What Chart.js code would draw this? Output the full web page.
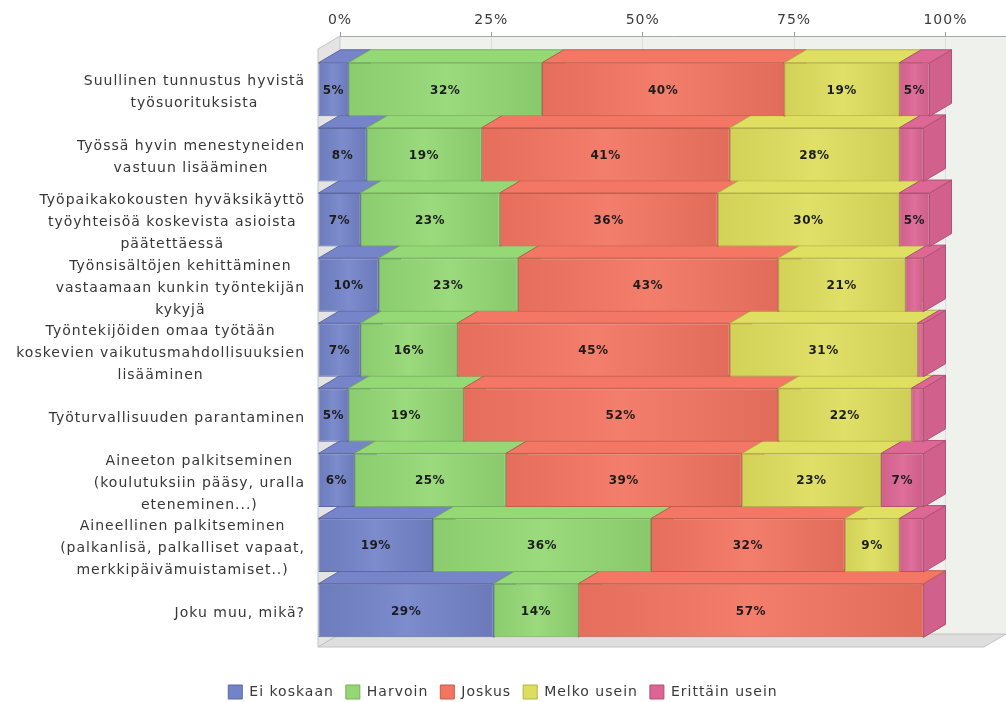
<!DOCTYPE html>
<html>
<head>
<meta charset="utf-8">
<title>Palkitsemiskeinojen käyttö</title>
<style>
  html, body { margin: 0; padding: 0; background: #ffffff; }
  #wrap { width: 1006px; height: 702px; }
</style>
<script src="https://cdn.jsdelivr.net/npm/chart.js@4.4.1/dist/chart.umd.min.js"></script>
</head>
<body>
<div id="wrap"><canvas id="chart" width="1006" height="702"></canvas></div>
<script>
// Question rows (each entry is the wrapped label, one string per line)
const categories = [
  ['Suullinen tunnustus hyvistä', 'työsuorituksista'],
  ['Työssä hyvin menestyneiden', 'vastuun lisääminen'],
  ['Työpaikakokousten hyväksikäyttö', 'työyhteisöä koskevista asioista', 'päätettäessä'],
  ['Työnsisältöjen kehittäminen', 'vastaamaan kunkin työntekijän', 'kykyjä'],
  ['Työntekijöiden omaa työtään', 'koskevien vaikutusmahdollisuuksien', 'lisääminen'],
  ['Työturvallisuuden parantaminen'],
  ['Aineeton palkitseminen', '(koulutuksiin pääsy, uralla', 'eteneminen...)'],
  ['Aineellinen palkitseminen', '(palkanlisä, palkalliset vapaat,', 'merkkipäivämuistamiset..)'],
  ['Joku muu, mikä?']
];

// Answer shares in percent, one array per answer option
const seriesNames = ['Ei koskaan', 'Harvoin', 'Joskus', 'Melko usein', 'Erittäin usein'];
const eiKoskaan     = [5, 8, 7, 10, 7, 5, 6, 19, 29];
const harvoin       = [32, 19, 23, 23, 16, 19, 25, 36, 14];
const joskus        = [40, 41, 36, 43, 45, 52, 39, 32, 57];
const melkoUsein    = [19, 28, 30, 21, 31, 22, 23, 9, 0];
const erittainUsein = [5, 4, 5, 3, 1, 2, 7, 4, 0];

// Percent axis ticks
const xTickValues = [0, 25, 50, 75, 100];

const seriesColors = ['#7383c8', '#93d874', '#f37461', '#dede5e', '#dc6594'];
const seriesValues = [eiKoskaan, harvoin, joskus, melkoUsein, erittainUsein];

// Labels are only printed on segments at least this large
const LABEL_MIN = 5;

// Oblique projection of the bar depth and of the front plane
const DEPTH_X = 22;
const DEPTH_Y = 13;
const FRONT_DX = -22;
const FRONT_DY = 21;
const FLOOR_GAP = 12;
const TEXT_SPACING = '1px';
const FONT_FAMILY = "'DejaVu Sans', sans-serif";

function shade(hex, f) {
  const n = parseInt(hex.slice(1), 16);
  const ch = [(n >> 16) & 255, (n >> 8) & 255, n & 255].map(c => {
    const v = f >= 1 ? c + (255 - c) * (f - 1) : c * f;
    return Math.max(0, Math.min(255, Math.round(v)));
  });
  return 'rgb(' + ch.join(',') + ')';
}

function barGeom(el) {
  const p = el.getProps(['x', 'y', 'base', 'height'], true);
  return {
    left: Math.min(p.base, p.x),
    right: Math.max(p.base, p.x),
    top: p.y - p.height / 2,
    bottom: p.y + p.height / 2,
    cy: p.y
  };
}

const depthPlugin = {
  id: 'depth3d',
  beforeUpdate(chart) {
    chart.ctx.letterSpacing = TEXT_SPACING;
  },
  beforeDraw(chart) {
    const ctx = chart.ctx;
    const a = chart.chartArea;
    ctx.letterSpacing = TEXT_SPACING;
    ctx.save();
    ctx.fillStyle = '#ffffff';
    ctx.fillRect(0, 0, chart.width, chart.height);

    const floorY = a.bottom + FLOOR_GAP;
    // back wall
    ctx.fillStyle = '#eff1ec';
    ctx.fillRect(a.left, a.top, a.right - a.left, floorY - a.top);

    ctx.lineWidth = 1;
    // left wall
    ctx.beginPath();
    ctx.moveTo(a.left, a.top);
    ctx.lineTo(a.left - DEPTH_X, a.top + DEPTH_Y);
    ctx.lineTo(a.left - DEPTH_X, floorY + DEPTH_Y);
    ctx.lineTo(a.left, floorY);
    ctx.closePath();
    ctx.fillStyle = '#e4e4e4';
    ctx.fill();
    ctx.strokeStyle = '#c4c4c4';
    ctx.stroke();

    // floor
    ctx.beginPath();
    ctx.moveTo(a.left, floorY);
    ctx.lineTo(a.right, floorY);
    ctx.lineTo(a.right - DEPTH_X, floorY + DEPTH_Y);
    ctx.lineTo(a.left - DEPTH_X, floorY + DEPTH_Y);
    ctx.closePath();
    ctx.fillStyle = '#dedede';
    ctx.fill();
    ctx.strokeStyle = '#c2c2c2';
    ctx.stroke();
    ctx.restore();
  },
  beforeDatasetsDraw(chart) {
    const ctx = chart.ctx;
    ctx.save();
    ctx.translate(FRONT_DX, FRONT_DY);
    const metas = chart.getSortedVisibleDatasetMetas();
    ctx.lineWidth = 1;
    // back rows first so nearer edges overlap them
    for (let r = categories.length - 1; r >= 0; r--) {
      metas.forEach(meta => {
        const g = barGeom(meta.data[r]);
        const base = seriesColors[meta.index];
        ctx.beginPath();
        ctx.moveTo(g.right, g.top);
        ctx.lineTo(g.right + DEPTH_X, g.top - DEPTH_Y);
        ctx.lineTo(g.right + DEPTH_X, g.bottom - DEPTH_Y);
        ctx.lineTo(g.right, g.bottom);
        ctx.closePath();
        ctx.fillStyle = shade(base, 0.95);
        ctx.fill();
        ctx.strokeStyle = shade(base, 0.8);
        ctx.stroke();
      });
      metas.forEach(meta => {
        const g = barGeom(meta.data[r]);
        if (g.right - g.left < 0.5) return;
        const base = seriesColors[meta.index];
        ctx.beginPath();
        ctx.moveTo(g.left, g.top);
        ctx.lineTo(g.right, g.top);
        ctx.lineTo(g.right + DEPTH_X, g.top - DEPTH_Y);
        ctx.lineTo(g.left + DEPTH_X, g.top - DEPTH_Y);
        ctx.closePath();
        ctx.fillStyle = shade(base, 1.02);
        ctx.fill();
        ctx.strokeStyle = shade(base, 0.8);
        ctx.stroke();
      });
    }
  },
  afterDatasetsDraw(chart) {
    const ctx = chart.ctx;
    const metas = chart.getSortedVisibleDatasetMetas();
    // soft shading across each front face
    metas.forEach(meta => {
      meta.data.forEach(el => {
        const g = barGeom(el);
        const w = g.right - g.left;
        if (w < 1) return;
        const grad = ctx.createLinearGradient(g.left, 0, g.right, 0);
        grad.addColorStop(0, 'rgba(0,0,0,0.05)');
        grad.addColorStop(0.5, 'rgba(255,255,255,0.07)');
        grad.addColorStop(1, 'rgba(0,0,0,0.07)');
        ctx.fillStyle = grad;
        ctx.fillRect(g.left + 1, g.top + 1, w - 2, g.bottom - g.top - 2);
      });
    });
    // value labels
    ctx.save();
    ctx.letterSpacing = '0.5px';
    ctx.font = 'bold 12px ' + FONT_FAMILY;
    ctx.fillStyle = '#1c1c1c';
    ctx.textAlign = 'center';
    ctx.textBaseline = 'middle';
    metas.forEach(meta => {
      const values = seriesValues[meta.index];
      meta.data.forEach((el, r) => {
        const v = values[r];
        if (v < LABEL_MIN) return;
        const g = barGeom(el);
        ctx.fillText(v + '%', (g.left + g.right) / 2, g.cy + 1);
      });
    });
    ctx.restore();
    ctx.restore();
  },
  afterDraw(chart) {
    const ctx = chart.ctx;
    const a = chart.chartArea;
    const yScale = chart.scales.y;
    const right = a.left - DEPTH_X - 13;
    const lineH = 22;
    ctx.save();
    ctx.font = '14px ' + FONT_FAMILY;
    ctx.fillStyle = '#363636';
    ctx.textAlign = 'center';
    ctx.textBaseline = 'middle';
    categories.forEach((lines, i) => {
      const cy = yScale.getPixelForValue(i) + FRONT_DY + 3;
      const w = Math.max(...lines.map(l => ctx.measureText(l).width));
      const cx = right - w / 2;
      lines.forEach((l, k) => {
        ctx.fillText(l, cx, cy + (k - (lines.length - 1) / 2) * lineH);
      });
    });
    ctx.restore();
  }
};

Chart.defaults.font.family = FONT_FAMILY;
Chart.defaults.font.size = 14;
Chart.defaults.color = '#363636';

const datasets = seriesNames.map((name, i) => ({
  label: name,
  data: seriesValues[i],
  backgroundColor: seriesColors[i],
  borderColor: shade(seriesColors[i], 0.8),
  borderWidth: 1,
  borderSkipped: false,
  xAxisID: 'x',
  yAxisID: 'y',
  clip: false
}));

new Chart(document.getElementById('chart'), {
  type: 'bar',
  data: {
    labels: categories.map(c => c.join(' ')),
    datasets: datasets
  },
  options: {
    indexAxis: 'y',
    responsive: false,
    animation: false,
    devicePixelRatio: 1,
    layout: { padding: { top: 0, left: 0, right: 0, bottom: -7 } },
    datasets: {
      bar: { categoryPercentage: 1, barPercentage: 0.822 }
    },
    scales: {
      x: {
        type: 'linear',
        position: 'top',
        stacked: true,
        min: 0,
        max: 110,
        afterFit(scale) { scale.height = 36; },
        afterBuildTicks(scale) { scale.ticks = xTickValues.map(v => ({ value: v })); },
        ticks: {
          padding: 3,
          color: '#3a3a3a',
          font: { size: 14 },
          callback: v => v + '%'
        },
        grid: {
          color: '#dcded9',
          tickColor: '#9a9a9a',
          tickLength: 4
        },
        border: { color: '#a8a8a8' }
      },
      y: {
        type: 'category',
        position: 'left',
        stacked: true,
        afterFit(scale) { scale.width = 340; },
        ticks: { display: false },
        grid: { display: false },
        border: { display: false }
      },
      floorSpace: {
        type: 'linear',
        axis: 'x',
        position: 'bottom',
        afterFit(scale) { scale.height = 51; },
        ticks: { display: false },
        grid: { display: false },
        border: { display: false }
      }
    },
    plugins: {
      legend: {
        position: 'bottom',
        labels: {
          boxWidth: 14,
          boxHeight: 14,
          padding: 12,
          color: '#3a3a3a',
          font: { size: 14 }
        }
      },
      tooltip: { enabled: false }
    }
  },
  plugins: [depthPlugin]
});
</script>
</body>
</html>
